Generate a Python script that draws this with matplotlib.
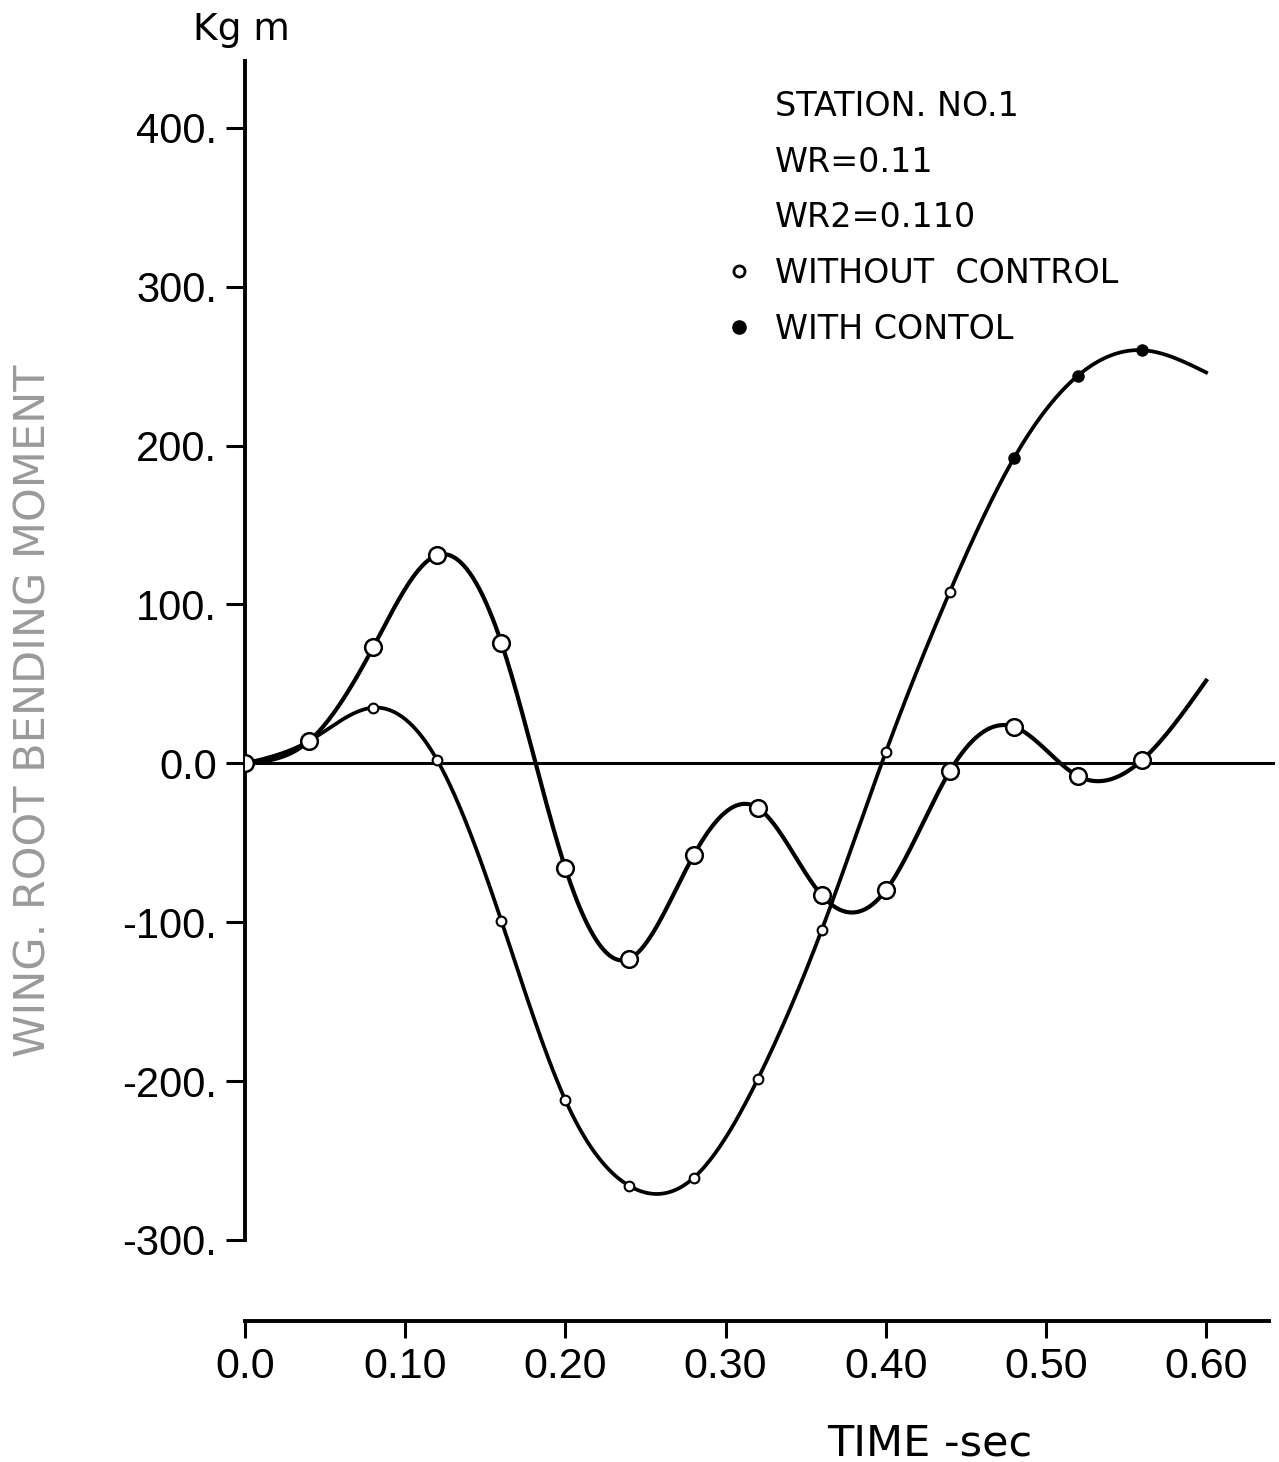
import numpy as np
import matplotlib
matplotlib.use("Agg")
import matplotlib.pyplot as plt
from matplotlib.lines import Line2D

# ---- data ----
time = [0.00, 0.04, 0.08, 0.12, 0.16, 0.20, 0.24, 0.28, 0.32, 0.36, 0.40, 0.44, 0.48, 0.52, 0.56, 0.60]
without_control = [0, 14, 73, 131, 76, -66, -123, -58, -28, -83, -80, -5, 23, -8, 2, 52]
with_control = [0, 14, 35, 2, -99, -212, -266, -261, -199, -105, 7, 108, 192, 244, 260, 246]
n_marked = 15                # markers at t = 0 ... 0.56
b_open = (2, 12)             # small open markers on lower curve
b_filled = (12, 15)          # filled markers on lower curve

yticks = [400, 300, 200, 100, 0, -100, -200, -300]
ytick_labels = ["400.", "300.", "200.", "100.", "0.0", "-100.", "-200.", "-300."]
xticks = [0.0, 0.1, 0.2, 0.3, 0.4, 0.5, 0.6]
xtick_labels = ["0.0", "0.10", "0.20", "0.30", "0.40", "0.50", "0.60"]
info_lines = ["STATION. NO.1", "WR=0.11", "WR2=0.110"]
legend_labels = ["WITHOUT  CONTROL", "WITH CONTOL"]


def natural_spline(x, y, xs):
    x = np.asarray(x, float); y = np.asarray(y, float)
    n = len(x); h = np.diff(x)
    A = np.zeros((n, n)); r = np.zeros(n)
    A[0, 0] = A[-1, -1] = 1
    for i in range(1, n - 1):
        A[i, i - 1] = h[i - 1]; A[i, i] = 2 * (h[i - 1] + h[i]); A[i, i + 1] = h[i]
        r[i] = 6 * ((y[i + 1] - y[i]) / h[i] - (y[i] - y[i - 1]) / h[i - 1])
    M = np.linalg.solve(A, r)
    idx = np.clip(np.searchsorted(x, xs) - 1, 0, n - 2)
    x0, x1 = x[idx], x[idx + 1]; hh = x1 - x0
    a = (x1 - xs) / hh; b = (xs - x0) / hh
    return a * y[idx] + b * y[idx + 1] + ((a**3 - a) * M[idx] + (b**3 - b) * M[idx + 1]) * hh**2 / 6


W, H = 1279, 1462
fig = plt.figure(figsize=(W / 100, H / 100), dpi=100)
ax = fig.add_axes([245 / W, 1 - 1321 / H, (1275 - 245) / W, (1321 - 61) / H])
ax.set_xlim(0, 0.643)
ax.set_ylim(-351, 442)

tick_font = ["Liberation Sans", "DejaVu Sans"]

ts = np.linspace(time[0], time[-1], 600)
ax.plot(ts, natural_spline(time, without_control, ts), color="black", lw=3.0, zorder=3)
ax.plot(ts, natural_spline(time, with_control, ts), color="black", lw=2.7, zorder=3)
ax.axhline(0, color="black", lw=2.2, zorder=2)

ax.plot(time[:n_marked], without_control[:n_marked], ls="none", marker="o", ms=12,
        mfc="white", mec="black", mew=1.8, zorder=5)
ax.plot(time[b_open[0]:b_open[1]], with_control[b_open[0]:b_open[1]], ls="none", marker="o", ms=7,
        mfc="white", mec="black", mew=1.5, zorder=5)
ax.plot(time[b_filled[0]:b_filled[1]], with_control[b_filled[0]:b_filled[1]], ls="none", marker="o", ms=7.5,
        mfc="black", mec="black", mew=1.5, zorder=5)

for s in ["top", "right"]:
    ax.spines[s].set_visible(False)
ax.spines["left"].set_bounds(-300, 442)
ax.spines["bottom"].set_bounds(0, 0.639)
ax.spines["left"].set_linewidth(2.8)
ax.spines["bottom"].set_linewidth(2.8)

ax.set_yticks(yticks)
ax.set_yticklabels(ytick_labels, family=tick_font, fontsize=30)
ax.set_xticks(xticks)
ax.set_xticklabels(xtick_labels, family=tick_font, fontsize=31)
ax.tick_params(axis="y", direction="out", length=14, width=2.2, pad=6)
ax.tick_params(axis="x", direction="out", length=12, width=2.2, pad=7)

# header text and legend
handles = [Line2D([], [], ls="none") for _ in info_lines]
handles += [Line2D([], [], ls="none", marker="o", ms=8, mfc="white", mec="black", mew=2),
            Line2D([], [], ls="none", marker="o", ms=9.5, mfc="black", mec="black")]
leg = ax.legend(handles, info_lines + legend_labels, loc="upper left",
                bbox_to_anchor=(727 / W, 1 - 90 / H), bbox_transform=fig.transFigure,
                frameon=False, prop={"family": "DejaVu Sans", "size": 24},
                handlelength=0.7, handletextpad=0.75, labelspacing=0.68,
                borderpad=0, borderaxespad=0)

fig.text(193 / W, 1 - 40 / H, "Kg m", fontsize=27, family="DejaVu Sans", ha="left", va="baseline")
fig.text(930 / W, 1 - 1455 / H, "TIME -sec", fontsize=31, family="DejaVu Sans", ha="center", va="baseline")
fig.text(34 / W, 1 - 711 / H, "WING. ROOT BENDING MOMENT", fontsize=31, family="DejaVu Sans",
         rotation=90, ha="center", va="center", color="#9a9a9a")

fig.savefig("out.png", dpi=100)
